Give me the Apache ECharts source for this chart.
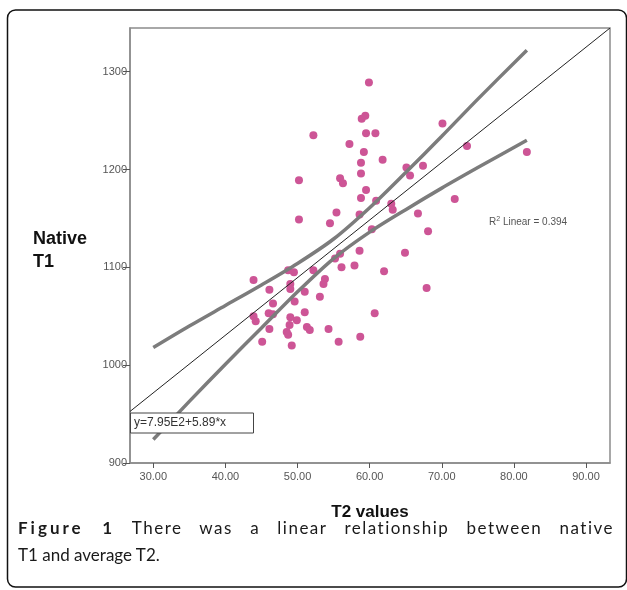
<!DOCTYPE html>
<html>
<head>
<meta charset="utf-8">
<script src="https://cdn.jsdelivr.net/npm/echarts@6/dist/echarts.min.js"></script>
<style>
  html, body { margin: 0; padding: 0; background: #fff; }
  #wrap { position: relative; width: 627px; height: 590px; }
  #main { position: absolute; left: 0; top: 0; width: 627px; height: 590px; }
  #caption {
    position: absolute; left: 18px; top: 514px; width: 596px;
    font-family: Lato, "Open Sans", sans-serif; font-size: 17px;
    line-height: 27px; color: #1a1a1a;
  }
  #caption .l1 { text-align: justify; text-align-last: justify; white-space: nowrap; letter-spacing: 1.5px; }
  #caption b { font-weight: 700; letter-spacing: 3px; }
</style>
</head>
<body>
<div id="wrap">
  <div id="main"></div>
  <div id="caption">
    <div class="l1"><b>Figure 1</b> There was a linear relationship between native</div>
    <div>T1 and average T2.</div>
  </div>
</div>
<script>
// 散点数据 (T2, native T1)
let t2Values = [59.9, 58.9, 59.4, 59.5, 60.8, 52.2, 57.2, 59.2, 61.8, 58.8, 58.8, 70.1, 73.5, 65.1, 65.6, 67.4, 81.8,
    50.2, 55.9, 56.3, 50.2, 54.5, 55.4, 59.5, 58.8, 60.9, 63.0, 63.2, 71.8, 66.7, 68.1, 58.6, 60.3, 58.6, 64.9,
    55.9, 55.2, 57.9, 56.1, 62.0, 67.9, 60.7, 58.7, 55.7, 43.9, 48.7, 49.5, 52.2, 53.8, 53.6, 46.1, 49.0, 49.0,
    51.0, 53.1, 49.6, 46.6, 46.0, 46.6, 51.0, 43.9, 44.2, 49.0, 49.9, 48.9, 51.3, 51.7, 46.1, 54.3, 48.5, 48.7,
    45.1, 49.2];
let t1Values = [1289, 1252, 1255, 1237, 1237, 1235, 1226, 1218, 1210, 1207, 1196, 1247, 1224, 1202, 1194, 1204, 1218,
    1189, 1191, 1186, 1149, 1145, 1156, 1179, 1171, 1168, 1165, 1159, 1170, 1155, 1137, 1154, 1139, 1117, 1115,
    1114, 1109, 1102, 1100, 1096, 1079, 1053, 1029, 1024, 1087, 1097, 1095, 1097, 1088, 1083, 1077, 1083, 1078,
    1075, 1070, 1065, 1063, 1053, 1052, 1054, 1050, 1045, 1049, 1046, 1041, 1039, 1036, 1037, 1037, 1034, 1031,
    1024, 1020];

// 回归线 y=7.95E2+5.89*x
let fitX = [26.77, 93.33];
let fitY = [952.7, 1344.7];

// 置信区间曲线
let bandX = [30, 35, 40, 45, 50, 55, 60, 65, 70, 75, 81.8];
let upperBand = [1018, 1040, 1061, 1082, 1104, 1129, 1161, 1197, 1234, 1272, 1322];
let lowerBand = [924, 963, 1001, 1038, 1075, 1109, 1136, 1159, 1181, 1202, 1230];

// 坐标轴刻度
let xTicks = [30, 40, 50, 60, 70, 80, 90];
let yTicks = [900, 1000, 1100, 1200, 1300];

let pink = '#cd5596';
let gray = '#555';

function zip(a, b) {
    return a.map(function (v, i) { return [v, b[i]]; });
}

let myChart = echarts.init(document.getElementById('main'));

let option = {
    animation: false,
    grid: {
        left: 130,
        top: 28,
        width: 480,
        height: 435,
        show: true,
        borderColor: '#8c8c8c',
        borderWidth: 1.5
    },
    xAxis: {
        type: 'value',
        min: 26.77,
        max: 93.33,
        splitLine: { show: false },
        axisLine: { show: true, onZero: false, lineStyle: { color: '#8c8c8c', width: 1.5 } },
        axisTick: { show: true, customValues: xTicks, length: 5, lineStyle: { color: '#555' } },
        axisLabel: {
            customValues: xTicks,
            margin: 8,
            fontSize: 11,
            color: gray,
            fontFamily: 'Liberation Sans',
            formatter: function (v) { return v.toFixed(2); }
        },
        name: 'T2 values',
        nameLocation: 'middle',
        nameGap: 41,
        nameTextStyle: { fontSize: 17, fontWeight: 'bold', color: '#111', fontFamily: 'Liberation Sans' }
    },
    yAxis: {
        type: 'value',
        min: 900,
        max: 1344.7,
        splitLine: { show: false },
        axisLine: { show: true, onZero: false, lineStyle: { color: '#8c8c8c', width: 1.5 } },
        axisTick: { show: true, customValues: yTicks, length: 7, lineStyle: { color: '#555' } },
        axisLabel: {
            customValues: yTicks,
            margin: 3,
            fontSize: 11,
            color: gray,
            fontFamily: 'Liberation Sans',
            formatter: function (v) { return String(v); }
        }
    },
    graphic: [
        {
            type: 'rect',
            shape: { x: 7.5, y: 10, width: 619, height: 577, r: 8 },
            style: { fill: 'none', stroke: '#111', lineWidth: 1.5 },
            z: 0
        },
        {
            type: 'text',
            left: 33,
            top: 228,
            style: {
                text: 'Native\nT1',
                font: 'bold 18px "Liberation Sans"',
                lineHeight: 23,
                fill: '#111'
            }
        },
        {
            type: 'text',
            left: 489,
            top: 216,
            style: {
                text: '{a|R}{s|2}{a| Linear = 0.394}',
                rich: {
                    a: { fontSize: 10, fontFamily: 'Liberation Sans', fill: gray },
                    s: { fontSize: 7, fontFamily: 'Liberation Sans', fill: gray, verticalAlign: 'top', padding: [0, 0, 5, 0] }
                }
            }
        },
        {
            type: 'rect',
            shape: { x: 130.5, y: 413, width: 123, height: 20 },
            style: { fill: '#fff', stroke: '#444', lineWidth: 1 },
            z: 10
        },
        {
            type: 'text',
            left: 134,
            top: 417,
            z: 11,
            style: {
                text: 'y=7.95E2+5.89*x',
                font: '12px "Liberation Sans"',
                fill: '#333'
            }
        }
    ],
    series: [
        {
            type: 'scatter',
            data: zip(t2Values, t1Values),
            symbolSize: 8,
            itemStyle: { color: pink, opacity: 1 },
            z: 2
        },
        {
            type: 'line',
            data: zip(bandX, upperBand),
            smooth: 0.3,
            showSymbol: false,
            lineStyle: { color: '#7c7c7c', width: 3.5 },
            z: 3
        },
        {
            type: 'line',
            data: zip(bandX, lowerBand),
            smooth: 0.3,
            showSymbol: false,
            lineStyle: { color: '#7c7c7c', width: 3.5 },
            z: 3
        },
        {
            type: 'line',
            data: zip(fitX, fitY),
            showSymbol: false,
            lineStyle: { color: '#222', width: 1 },
            z: 4
        }
    ]
};

myChart.setOption(option);
</script>
</body>
</html>
